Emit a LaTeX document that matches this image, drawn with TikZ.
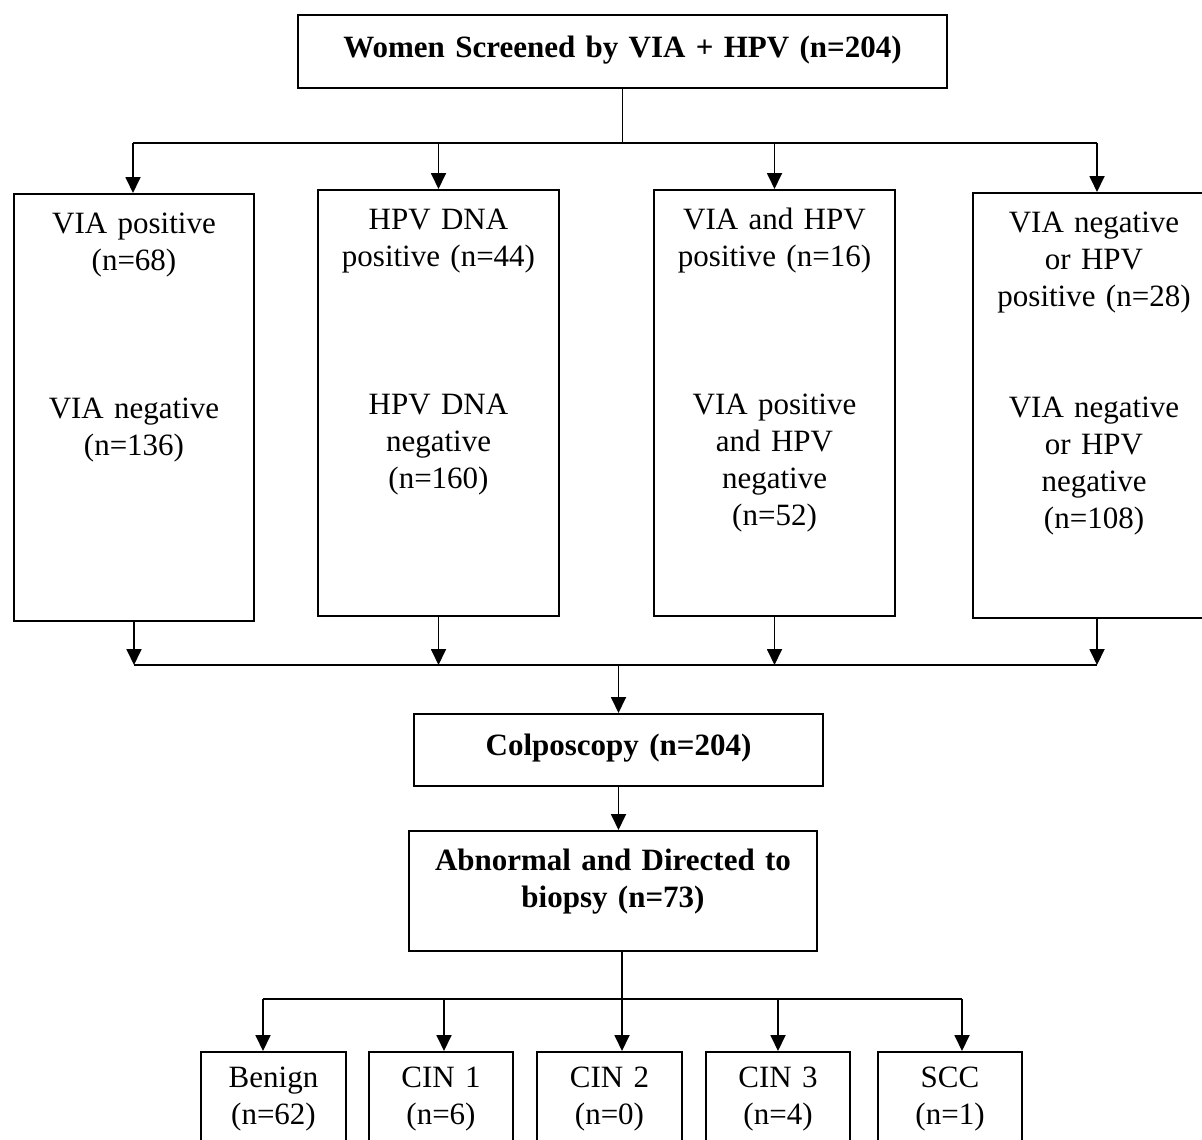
\documentclass[tikz,border=0pt]{standalone}
\usepackage{fontspec}
\setmainfont{Liberation Serif}
\usepackage{tikz}
\usetikzlibrary{arrows.meta,positioning,calc}

\begin{document}
\begin{tikzpicture}[x=1pt,y=-1pt,>={Triangle[width=15pt,length=16pt]},
 font=\fontsize{31pt}{37pt}\selectfont,
 box/.style={draw,line width=1.8pt,inner sep=0pt,align=center,anchor=north},
 head/.style={box,font=\fontsize{31pt}{37pt}\selectfont\bfseries},
 line/.style={line width=1.8pt},arr/.style={->,line width=1.8pt}]
\clip (0,0) rectangle (1202,1140);
% screening
\node[head,text width=649pt,text height=43pt,text depth=30pt] (top) at (622.5,14) {Women Screened by VIA + HPV (n=204)};
% four test groups
\node[box,text width=240pt,text height=40pt,text depth=387pt] (v1) at (134,193)
 {VIA positive\\(n=68)\\[111pt]VIA negative\\(n=136)};
\node[box,text width=241pt,text height=40pt,text depth=386pt] (v2) at (438.5,189)
 {HPV DNA\\positive (n=44)\\[111pt]HPV DNA\\negative\\(n=160)};
\node[box,text width=241pt,text height=40pt,text depth=386pt] (v3) at (774.5,189)
 {VIA and HPV\\positive (n=16)\\[111pt]VIA positive\\and HPV\\negative\\(n=52)};
\node[box,text width=242pt,text height=40pt,text depth=385pt] (v4) at (1094,192)
 {VIA negative\\or HPV\\positive (n=28)\\[74pt]VIA negative\\or HPV\\negative\\(n=108)};
% colposcopy and biopsy
\node[head,text width=409pt,text height=42pt,text depth=30pt] (colpo) at (618.5,713) {Colposcopy (n=204)};
\node[head,text width=408pt,text height=40pt,text depth=80pt] (abn) at (613,830) {Abnormal and Directed to\\biopsy (n=73)};
% histology
\node[box,text width=145pt,text height=36pt,text depth=78pt] (b1) at (273.5,1051) {Benign\\(n=62)};
\node[box,text width=144pt,text height=36pt,text depth=78pt] (b2) at (441,1051) {CIN 1\\(n=6)};
\node[box,text width=145pt,text height=36pt,text depth=78pt] (b3) at (609.5,1051) {CIN 2\\(n=0)};
\node[box,text width=144pt,text height=36pt,text depth=78pt] (b4) at (778,1051) {CIN 3\\(n=4)};
\node[box,text width=144pt,text height=36pt,text depth=78pt] (b5) at (950,1051) {SCC\\(n=1)};

% split from screening
\coordinate (t1) at (133,143);
\coordinate (t4) at (1097,143);
\draw[line] (top.south) -- (top.south |- t1);
\draw[line] (t1) -- (t4);
\draw[arr] (t1) -- (t1 |- v1.north);
\draw[arr] (v2.north |- t1) -- (v2.north);
\draw[arr] (v3.north |- t1) -- (v3.north);
\draw[arr] (t4) -- (t4 |- v4.north);
% join to colposcopy
\coordinate (m1) at (134,665);
\coordinate (m4) at (1097,665);
\draw[arr] (v1.south) -- (v1.south |- m1);
\draw[arr] (v2.south) -- (v2.south |- m1);
\draw[arr] (v3.south) -- (v3.south |- m1);
\draw[arr] (m4 |- v4.south) -- (m4);
\draw[line] (m1) -- (m4);
\draw[arr] (colpo.north |- m1) -- (colpo.north);
\draw[arr] (colpo.south) -- (colpo.south |- abn.north);
% split to histology
\foreach \x [count=\i] in {263,444,622,778,962}
  \coordinate (s\i) at (\x,999);
\draw[line] (s3 |- abn.south) -- (s3);
\draw[line] (s1) -- (s5);
\foreach \i in {1,...,5}
  \draw[arr] (s\i) -- (s\i |- b\i.north);
\end{tikzpicture}
\end{document}
